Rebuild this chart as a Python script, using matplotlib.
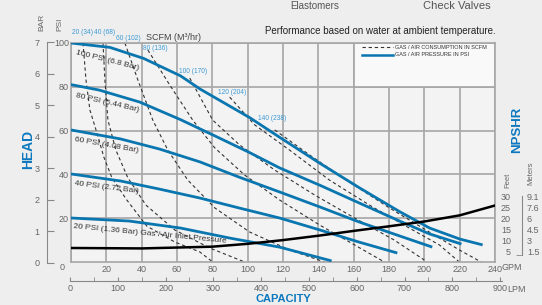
import matplotlib.pyplot as plt
from matplotlib.lines import Line2D
from matplotlib.patches import Rectangle

plt.rcParams['font.family'] = ['Liberation Sans', 'DejaVu Sans']

W, H = 542, 305


def px(x, y):
    # pixel position -> figure fraction
    return x / W, 1 - y / H


# gas / air inlet pressure curves (GPM, PSI head)
p100_gpm = [0, 22, 41, 62, 73, 101, 118, 141, 163, 186, 203, 220, 233]
p100_psi = [100, 98, 93, 85, 79, 66, 57, 45, 34, 23, 15.5, 10.5, 7.8]
p80_gpm = [0, 16, 39, 62, 84, 101, 118, 141, 163, 186, 203, 221]
p80_psi = [81, 78.5, 73, 65, 56.6, 50, 43, 35, 27, 18.7, 12.8, 8.2]
p60_gpm = [0, 28, 50, 73, 95, 118, 141, 163, 186, 204.5]
p60_psi = [60.3, 56.2, 51.6, 45.7, 38.8, 32, 25.1, 18.3, 11.9, 6.8]
p40_gpm = [0, 28, 50, 73, 95, 118, 141, 163, 184.7]
p40_psi = [40.2, 37, 33.3, 29.2, 24.7, 20.1, 14.6, 9.1, 4.1]
p20_gpm = [0, 33, 62, 90, 118, 147.5]
p20_psi = [20.1, 18.7, 15.5, 10.9, 6.8, 0.5]

# air consumption curves (SCFM)
s20_gpm = [6.8, 8.5, 10.7, 14.7, 18.6, 23.2, 31.6, 42.9, 58.8, 72.9, 80.2]
s20_psi = [100, 83, 69.4, 58.9, 47.9, 38.4, 28.3, 16.4, 9.1, 4.6, 0]
s40_gpm = [18.1, 19.2, 20.9, 25.4, 32.2, 42.4, 58.8, 78.5, 98.3]
s40_psi = [100, 83, 64.8, 51.1, 38.4, 26, 14.6, 6.4, 0]
s60_gpm = [30.5, 37.9, 46.3, 54.8, 66.1, 81.4, 101.1, 123.7, 143.5]
s60_psi = [100, 83, 64.8, 51.1, 37.4, 24.7, 13.7, 5.5, 0]
s80_gpm = [43.5, 55.9, 68.9, 81.4, 98.3, 118.1, 140.7, 160.5, 177.4]
s80_psi = [96.8, 80.8, 64.8, 52.1, 39.7, 28.3, 16.9, 7.8, 0]
s100_gpm = [67.2, 80.2, 95.5, 115.3, 137.9, 160.5, 183, 200]
s100_psi = [84, 64.8, 53.4, 42, 30.6, 20.1, 10, 0.9]
s120_gpm = [89.8, 104, 123.7, 146.3, 168.9, 191.5, 208.5, 219.8]
s120_psi = [75.3, 62.6, 51.1, 37.4, 26, 15.5, 7.8, 0]
s140_gpm = [115.3, 135, 157.6, 180.2, 202.8, 219.8, 232.2]
s140_psi = [60.3, 48.9, 36.5, 24.7, 13.7, 5.5, 0]

# NPSHR (GPM, feet)
npshr_gpm = [0, 40, 80, 100, 120, 140, 160, 180, 200, 220, 240]
npshr_ft = [6.4, 6.2, 7.0, 8.3, 10.0, 12.0, 14.2, 16.3, 18.5, 21.3, 25.8]

pressure_curves = [(p100_gpm, p100_psi), (p80_gpm, p80_psi), (p60_gpm, p60_psi),
                   (p40_gpm, p40_psi), (p20_gpm, p20_psi)]
scfm_curves = [(s20_gpm, s20_psi), (s40_gpm, s40_psi), (s60_gpm, s60_psi),
               (s80_gpm, s80_psi), (s100_gpm, s100_psi), (s120_gpm, s120_psi),
               (s140_gpm, s140_psi)]

pressure_labels = ['100 PSI (6.8 Bar)', '80 PSI (5.44 Bar)', '60 PSI (4.08 Bar)',
                   '40 PSI (2.72 Bar)', '20 PSI (1.36 Bar) Gas / Air Inlet Pressure']
scfm_labels = ['20 (34)', '40 (68)', '60 (102)', '80 (136)', '100 (170)', '120 (204)', '140 (238)']

gpm_ticks = list(range(0, 241, 20))
psi_ticks = [20, 40, 60, 80, 100]
bar_ticks = list(range(0, 8))
lpm_ticks = list(range(0, 901, 100))
feet_ticks = [5, 10, 15, 20, 25, 30]
meter_ticks = [1.5, 3, 4.5, 6, 7.6, 9.1]
meter_labels = ['1.5', '3', '4.5', '6', '7.6', '9.1']

BLUE = '#0a76b0'
TITLE_BLUE = '#0b78bf'
LBL_BLUE = '#3d9ad4'
GRID = '#a6a6a6'
TXT = '#666666'

fig = plt.figure(figsize=(W / 100, H / 100), dpi=100, facecolor='#eeeeee')
ax = fig.add_axes([71 / W, 1 - 262 / H, 424 / W, 219 / H])
ax.set_facecolor('#f3f3f3')
ax.set_xlim(0, 240)
ax.set_ylim(0, 100)
ax.set_xticks(gpm_ticks)
ax.set_xticklabels([''] + [str(t) for t in gpm_ticks[1:]])
ax.set_yticks(psi_ticks)
ax.tick_params(length=0, labelsize=6.5, labelcolor=TXT)
ax.tick_params(axis='x', pad=2.5)
ax.tick_params(axis='y', pad=1.5)
ax.grid(True, color=GRID, lw=1.2)
ax.set_axisbelow(True)
for s in ax.spines.values():
    s.set_color(GRID)
    s.set_linewidth(1.2)

# legend cell
ax.add_patch(Rectangle((160, 80), 80, 20, facecolor='#f9f9f9', edgecolor=GRID, lw=1.2, zorder=0.8))

for g, p in scfm_curves:
    ax.plot(g, p, color='#333333', lw=0.8, dashes=(3, 2.5), zorder=2)
for g, p in pressure_curves:
    ax.plot(g, p, color=BLUE, lw=2, zorder=3, solid_capstyle='butt')
ax.plot(npshr_gpm, npshr_ft, color='black', lw=1.8, zorder=3)

handles = [Line2D([], [], color='#333333', lw=0.8, dashes=(3, 2.5)),
           Line2D([], [], color=BLUE, lw=1.8)]
ax.legend(handles, ['GAS / AIR CONSUMPTION IN SCFM', 'GAS / AIR PRESSURE IN PSI'],
          loc='upper left', bbox_to_anchor=px(362, 45), bbox_transform=fig.transFigure,
          frameon=False, fontsize=4, handlelength=5.5, handletextpad=0.4,
          labelspacing=0.45, borderpad=0, borderaxespad=0, labelcolor='#333333')

# curve labels
label_pos = [(107, 60), (107, 103), (107, 145), (107, 187), (150, 234)]
label_rot = [-14, -13, -10, -7, -5.5]
for t, (x, y), r in zip(pressure_labels, label_pos, label_rot):
    fig.text(*px(x, y), t, fontsize=6, color='#333333', rotation=r,
             rotation_mode='anchor', ha='center', va='center', zorder=5)

scfm_pos = [(83, 32), (105, 32), (128, 38), (155, 49), (193, 72), (232, 93), (272, 118)]
for t, (x, y) in zip(scfm_labels, scfm_pos):
    fig.text(*px(x, y), t, fontsize=4.8, color=LBL_BLUE, ha='center', va='center')
fig.text(*px(173, 37), 'SCFM (M³/hr)', fontsize=6.5, color='#444444', ha='center', va='center')

# BAR axis
axb = fig.add_axes([46.5 / W, 1 - 263 / H, 0.0001, 221 / H])
axb.set_ylim(0, 7)
axb.set_yticks(bar_ticks)
axb.set_xticks([])
axb.patch.set_visible(False)
for k in ['top', 'right', 'bottom']:
    axb.spines[k].set_visible(False)
axb.spines['left'].set_color('#888888')
axb.tick_params(axis='y', direction='in', length=5, color='#888888', labelsize=6.5,
                labelcolor=TXT, pad=5)

# NPSHR axis (feet / meters)
axr = fig.add_axes([522 / W, 1 - 262 / H, 0.0001, 219 / H])
axr.set_ylim(0, 100)
axr.set_yticks(feet_ticks)
axr.set_yticks([3.2, 10, 20, 30], minor=True)
axr.set_xticks([])
axr.patch.set_visible(False)
for k in ['top', 'right', 'bottom']:
    axr.spines[k].set_visible(False)
axr.spines['left'].set_color('#888888')
axr.spines['left'].set_bounds(3.2, 30)
axr.tick_params(axis='y', which='major', length=0, labelsize=6.5, labelcolor=TXT, pad=8)
axr.tick_params(axis='y', which='minor', length=4, direction='out', color='#888888')
axm = axr.twinx()
axm.set_ylim(0, 100 * 0.3048)
axm.set_yticks(meter_ticks)
axm.set_yticklabels(meter_labels)
axm.set_xticks([])
for s in axm.spines.values():
    s.set_visible(False)
axm.tick_params(axis='y', length=0, labelsize=6.5, labelcolor=TXT, pad=3.5)

# LPM axis
axl = fig.add_axes([70 / W, 1 - 281 / H, 432 / W, 0.0001])
axl.set_xlim(0, 904)
axl.set_xticks(lpm_ticks)
axl.set_xticks(list(range(50, 901, 100)), minor=True)
axl.set_yticks([])
axl.patch.set_visible(False)
for k in ['top', 'left', 'right']:
    axl.spines[k].set_visible(False)
axl.spines['bottom'].set_color('#888888')
axl.tick_params(axis='x', which='both', direction='in', length=3, color='#888888',
                labelsize=6.5, labelcolor=TXT, pad=2.5)

# extra text
fig.text(*px(62, 268), '0', fontsize=6.5, color=TXT, ha='center', va='center')
fig.text(*px(501, 268), 'GPM', fontsize=6.5, color=TXT, ha='left', va='center')
fig.text(*px(507, 289), 'LPM', fontsize=6.5, color=TXT, ha='left', va='center')
fig.text(*px(41.5, 22), 'BAR', fontsize=6, color=TXT, rotation=90, ha='center', va='center')
fig.text(*px(60, 24), 'PSI', fontsize=6, color=TXT, rotation=90, ha='center', va='center')
fig.text(*px(508, 180), 'Feet', fontsize=5.5, color=TXT, rotation=90, ha='center', va='center')
fig.text(*px(531, 173), 'Meters', fontsize=5.5, color=TXT, rotation=90, ha='center', va='center')
fig.text(*px(28, 149), 'HEAD', fontsize=10, fontweight='bold', color=TITLE_BLUE,
         rotation=90, ha='center', va='center')
fig.text(*px(517, 130), 'NPSHR', fontsize=9.5, fontweight='bold', color=TITLE_BLUE,
         rotation=90, ha='center', va='center')
fig.text(*px(283, 304), 'CAPACITY', fontsize=8, fontweight='bold', color=TITLE_BLUE,
         ha='center', va='bottom')
fig.text(*px(496, 31), 'Performance based on water at ambient temperature.', fontsize=7,
         color='#222222', ha='right', va='center')
fig.text(*px(315, 1), 'Elastomers', fontsize=7, color='#555555', ha='center', va='top')
fig.text(*px(457, 1), 'Check Valves', fontsize=8, color='#555555', ha='center', va='top')

fig.savefig('out.png', dpi=100, facecolor=fig.get_facecolor())
